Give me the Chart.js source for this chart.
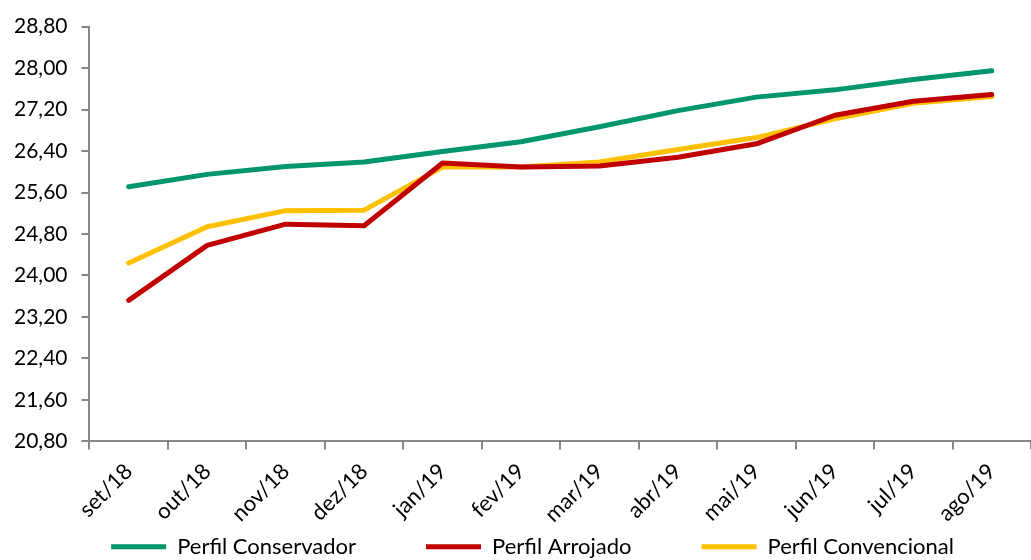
<!DOCTYPE html>
<html>
<head>
<meta charset="utf-8">
<script src="https://cdn.jsdelivr.net/npm/chart.js@4.4.1/dist/chart.umd.min.js"></script>
<style>
html,body{margin:0;padding:0;background:#fff;overflow:hidden;}
#wrap{width:1031px;height:640px;position:relative;}
</style>
</head>
<body>
<div id="wrap"><canvas id="c"></canvas></div>
<script>
const categories = ["set/18","out/18","nov/18","dez/18","jan/19","fev/19","mar/19","abr/19","mai/19","jun/19","jul/19","ago/19"];
const conservador = [25.71,25.95,26.10,26.19,26.39,26.58,26.87,27.18,27.44,27.58,27.78,27.95];
const arrojado    = [23.52,24.58,24.99,24.96,26.17,26.09,26.11,26.28,26.54,27.09,27.36,27.49];
const convencional= [24.24,24.94,25.25,25.26,26.09,26.09,26.19,26.43,26.66,27.02,27.32,27.45];
const seriesNames = ["Perfil Conservador","Perfil Arrojado","Perfil Convencional"];
const yMin = 20.8, yMax = 28.8, yStep = 0.8;

const FONT = "Lato";
const LEG_FONT = 22, LEG_PAD = 70;
const PLOT_BOTTOM = 437, LEG_TEXT_Y = 549, LEG_DX = 16;

const mk = (label, data, color) => ({
  label, data, borderColor: color, backgroundColor: color,
  borderWidth: 5, pointRadius: 0, pointHoverRadius: 0, tension: 0,
  borderCapStyle: 'round', borderJoinStyle: 'round', fill: false
});

const legendPlace = {
  id: 'legendPlace',
  afterLayout(chart) {
    const l = chart.legend;
    if (!l) return;
    const itemH = LEG_FONT * 1.2;
    const dy = (LEG_TEXT_Y - LEG_PAD - itemH / 2) - l.top;
    l.top += dy; l.bottom += dy;
    l.left += LEG_DX; l.right += LEG_DX;
  }
};

new Chart(document.getElementById('c'), {
  type: 'line',
  data: {
    labels: categories,
    datasets: [
      mk(seriesNames[0], conservador, '#00966C'),
      mk(seriesNames[1], arrojado, '#C00000'),
      mk(seriesNames[2], convencional, '#FFC000')
    ]
  },
  plugins: [legendPlace],
  options: {
    responsive: true,
    maintainAspectRatio: false,
    animation: false,
    layout: { padding: { top: 20, right: -2, left: 0, bottom: 0 } },
    plugins: {
      tooltip: { enabled: false },
      legend: {
        position: 'bottom',
        labels: {
          usePointStyle: true,
          pointStyle: 'line',
          pointStyleWidth: 55,
          boxHeight: 5,
          padding: LEG_PAD,
          color: '#000',
          font: { family: FONT, size: LEG_FONT }
        }
      }
    },
    scales: {
      x: {
        offset: true,
        afterFit: s => {
          s.height = s.chart.height - PLOT_BOTTOM - (LEG_FONT * 1.2 + LEG_PAD + 10);
          s.paddingLeft = 0;
        },
        border: { color: '#888', width: 2 },
        grid: { drawOnChartArea: false, drawTicks: true, tickLength: 8, color: '#888', lineWidth: 2, offset: true },
        ticks: { color: '#000', font: { family: FONT, size: 22 }, maxRotation: 45, minRotation: 45, padding: 9 }
      },
      y: {
        min: yMin, max: yMax,
        afterFit: s => { s.width = Math.max(s.width, 88); },
        border: { color: '#888', width: 2 },
        grid: { drawOnChartArea: false, drawTicks: true, tickLength: 8, color: '#888', lineWidth: 2 },
        ticks: {
          stepSize: yStep, color: '#000', font: { family: FONT, size: 21 }, padding: 14,
          callback: v => Number(v).toFixed(2).replace('.', ',')
        }
      }
    }
  }
});
</script>
</body>
</html>
